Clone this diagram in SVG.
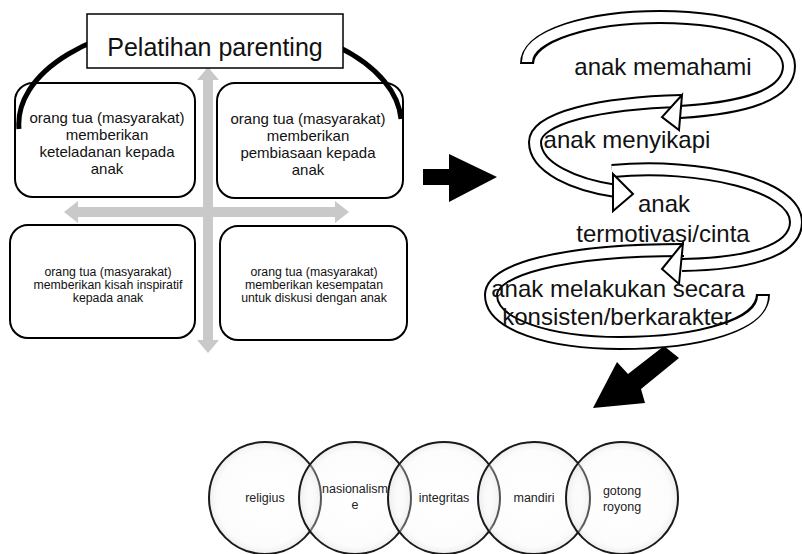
<svg xmlns="http://www.w3.org/2000/svg" width="802" height="554" viewBox="0 0 802 554">
<defs>
<radialGradient id="cg" cx="50%" cy="50%" r="50%">
<stop offset="0%" stop-color="#ffffff" stop-opacity="0.2"/>
<stop offset="85%" stop-color="#f6f6f6" stop-opacity="0.3"/>
<stop offset="100%" stop-color="#dcdcdc" stop-opacity="0.5"/>
</radialGradient>
</defs>
<style>
text{font-family:"Liberation Sans",Arial,sans-serif;fill:#111;text-anchor:middle}
.box{fill:#fff;stroke:#000;stroke-width:2}
.t15{font-size:15px}
.t12{font-size:12.3px}
.t24{font-size:24px}
.t11{font-size:12.5px;fill:#222}
.gray{fill:#c9c9c9}
.bandO{fill:none;stroke:#000;stroke-width:14}
.bandI{fill:none;stroke:#fff;stroke-width:10}
.head{fill:#fff;stroke:#000;stroke-width:2;stroke-linejoin:miter}
.circ{fill:url(#cg);stroke:#1a1a1a;stroke-width:2}
</style>
<rect width="802" height="554" fill="#fff"/>
<g id="connectors">
<polygon class="gray" points="203,80 197,80 208,67 219,80 213,80 213,340 219,340 208,353 197,340 203,340"/>
<polygon class="gray" points="78,207 78,201 64,212 78,223 78,217 335,217 335,223 349,212 335,201 335,207"/>
<polygon fill="#000" points="423,169 449,169 449,154 497,177 449,202 449,185 423,185"/>
<polygon fill="#000" points="664,346 679,358 641,389 645,403 593,408 617,362 628,374"/>
</g>
<g id="box-keteladanan">
<rect class="box" x="15" y="83" width="180" height="114" rx="18"/>
<text class="t15" x="107" y="123">orang tua (masyarakat)</text>
<text class="t15" x="107" y="140">memberikan</text>
<text class="t15" x="107" y="157">keteladanan kepada</text>
<text class="t15" x="107" y="174">anak</text>
</g>
<g id="box-pembiasaan">
<rect class="box" x="217" y="83" width="186" height="115" rx="18"/>
<text class="t15" x="308" y="124">orang tua (masyarakat)</text>
<text class="t15" x="308" y="141">memberikan</text>
<text class="t15" x="308" y="158">pembiasaan kepada</text>
<text class="t15" x="308" y="175">anak</text>
</g>
<g id="box-kisah">
<rect class="box" x="10" y="225" width="185" height="113" rx="18"/>
<text class="t12" x="108" y="276">orang tua (masyarakat)</text>
<text class="t12" x="108" y="289">memberikan kisah inspiratif</text>
<text class="t12" x="108" y="302">kepada anak</text>
</g>
<g id="box-diskusi">
<rect class="box" x="220" y="226" width="187" height="114" rx="18"/>
<text class="t12" x="314" y="276">orang tua (masyarakat)</text>
<text class="t12" x="314" y="289">memberikan kesempatan</text>
<text class="t12" x="314" y="302">untuk diskusi dengan anak</text>
</g>
<g id="arc">
<path d="M19,129 A191 104 0 0 1 401,119" fill="none" stroke="#000" stroke-width="5"/>
</g>
<g id="title">
<rect x="87" y="14" width="256" height="54" fill="#fff" stroke="#000" stroke-width="1.5"/>
<text class="t24" x="215" y="56" style="font-size:25px">Pelatihan parenting</text>
</g>
<g id="loops">
<g id="loop4">
<path class="bandO" d="M684,250 C560,250 491,270 491,295 C491,325 550,343 620,343 C700,343 763,325 763,294"/>
<path class="bandI" d="M684,250 C560,250 491,270 491,295 C491,325 550,343 620,343 C700,343 763,325 763,296"/>
</g>
<g id="loop3">
<path class="bandO" d="M612,171 C700,163 796,185 796,222 C796,252 745,264 682,265"/>
<path class="bandI" d="M612,171 C700,163 796,185 796,222 C796,252 745,264 682,265"/>
<polygon class="head" points="683,243 662,269 679,284"/>
</g>
<g id="loop2">
<path class="bandO" d="M682,101 C600,103 535,118 535,142 C535,168 575,185 616,191"/>
<path class="bandI" d="M682,101 C600,103 535,118 535,142 C535,168 575,185 616,191"/>
<polygon class="head" points="613,174 633,194 613,211"/>
</g>
<g id="loop1">
<path class="bandO" d="M527,64 C527,35 590,17 660,17 C740,17 789,40 789,66 C789,95 745,108 680,112"/>
<path class="bandI" d="M527,62 C527,35 590,17 660,17 C740,17 789,40 789,66 C789,95 745,108 680,112"/>
<polygon class="head" points="682,95 662,117 679,130"/>
</g>
</g>
<g id="step-memahami"><text class="t24" x="663" y="75">anak memahami</text></g>
<g id="step-menyikapi"><text class="t24" x="627" y="148">anak menyikapi</text></g>
<g id="step-termotivasi"><text class="t24" x="664" y="212">anak</text><text class="t24" x="663" y="242">termotivasi/cinta</text></g>
<g id="step-konsisten"><text class="t24" x="618" y="297">anak melakukan secara</text><text class="t24" x="617" y="325">konsisten/berkarakter</text></g>
<g id="c-religius"><circle class="circ" cx="265" cy="498" r="56"/><text class="t11" x="265" y="502">religius</text></g>
<g id="c-nasionalisme"><circle class="circ" cx="355" cy="498" r="56"/><text class="t11" x="355" y="493">nasionalism</text><text class="t11" x="355" y="509">e</text></g>
<g id="c-integritas"><circle class="circ" cx="444" cy="498" r="56"/><text class="t11" x="444" y="502">integritas</text></g>
<g id="c-mandiri"><circle class="circ" cx="534" cy="498" r="56"/><text class="t11" x="534" y="502">mandiri</text></g>
<g id="c-gotong"><circle class="circ" cx="622" cy="498" r="56"/><text class="t11" x="622" y="495">gotong</text><text class="t11" x="622" y="511">royong</text></g>
</svg>
